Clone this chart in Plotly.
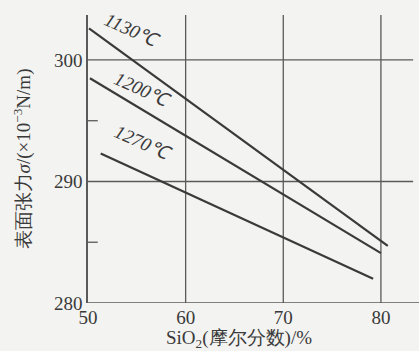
import plotly.graph_objects as go

# Data
series_names = ["1130℃", "1200℃", "1270℃"]
x_1130 = [50.1, 80.7]
y_1130 = [302.6, 284.7]
x_1200 = [50.2, 80.0]
y_1200 = [298.5, 284.1]
x_1270 = [51.3, 79.2]
y_1270 = [292.3, 282.0]
x_ticks = [50, 60, 70, 80]
y_ticks = [280, 290, 300]
label_pos = [(54.6, 302.4), (55.6, 297.6), (55.6, 293.2)]

INK = "#3a3a3a"
GRID = "#5a5a5a"
BG = "#f3f3f1"
SERIF = "Liberation Serif, Times New Roman, serif"

fig = go.Figure()
for xs, ys, name in [(x_1130, y_1130, series_names[0]),
                     (x_1200, y_1200, series_names[1]),
                     (x_1270, y_1270, series_names[2])]:
    fig.add_trace(go.Scatter(x=xs, y=ys, mode="lines", name=name,
                             line=dict(color=INK, width=2.2), showlegend=False))

for (lx, ly), name in zip(label_pos, series_names):
    fig.add_annotation(x=lx, y=ly, text="<i>" + name + "</i>", showarrow=False,
                       textangle=24, font=dict(family=SERIF, size=19, color=INK))

# horizontal grid lines
for yv in [290, 300]:
    fig.add_shape(type="line", x0=50, x1=83.3, y0=yv, y1=yv, xref="x", yref="y",
                  line=dict(color=GRID, width=1.3), layer="below")
# vertical grid lines
for xv in [60, 70, 80]:
    fig.add_shape(type="line", x0=xv, x1=xv, y0=280, y1=303.7, xref="x", yref="y",
                  line=dict(color=GRID, width=1.3), layer="below")
# left axis minor ticks
for yv in [285, 295]:
    fig.add_shape(type="line", x0=50, x1=51.0, y0=yv, y1=yv, xref="x", yref="y",
                  line=dict(color=GRID, width=1.3))
# bottom axis line across width
fig.add_shape(type="line", x0=0, x1=1, y0=280, y1=280, xref="paper", yref="y",
              line=dict(color=GRID, width=1.5))

# x-axis title
fig.add_annotation(x=0.456, y=-0.125, xref="paper", yref="paper", showarrow=False,
                   text="SiO<sub>2</sub>(摩尔分数)/%", yanchor="middle",
                   font=dict(family=SERIF, size=19, color=INK))

fig.update_xaxes(range=[50, 83.9], tickvals=x_ticks, ticktext=[str(v) for v in x_ticks],
                 showgrid=False, zeroline=False, showline=False, ticks="",
                 ticklabelstandoff=1,
                 tickfont=dict(family=SERIF, size=19, color=INK))
fig.update_yaxes(range=[280, 303.7], tickvals=y_ticks, ticktext=[str(v) for v in y_ticks],
                 showgrid=False, zeroline=False, showline=True, linecolor=GRID, linewidth=1.5,
                 ticks="", tickfont=dict(family=SERIF, size=19, color=INK),
                 title=dict(text="表面张力<i>σ</i>/(×10<sup>−3</sup>N/m)", standoff=18,
                            font=dict(family=SERIF, size=19, color=INK)))

fig.update_layout(width=419, height=351, margin=dict(l=88, r=0, t=15, b=48),
                  paper_bgcolor=BG, plot_bgcolor=BG)

fig.write_html("out.html")
